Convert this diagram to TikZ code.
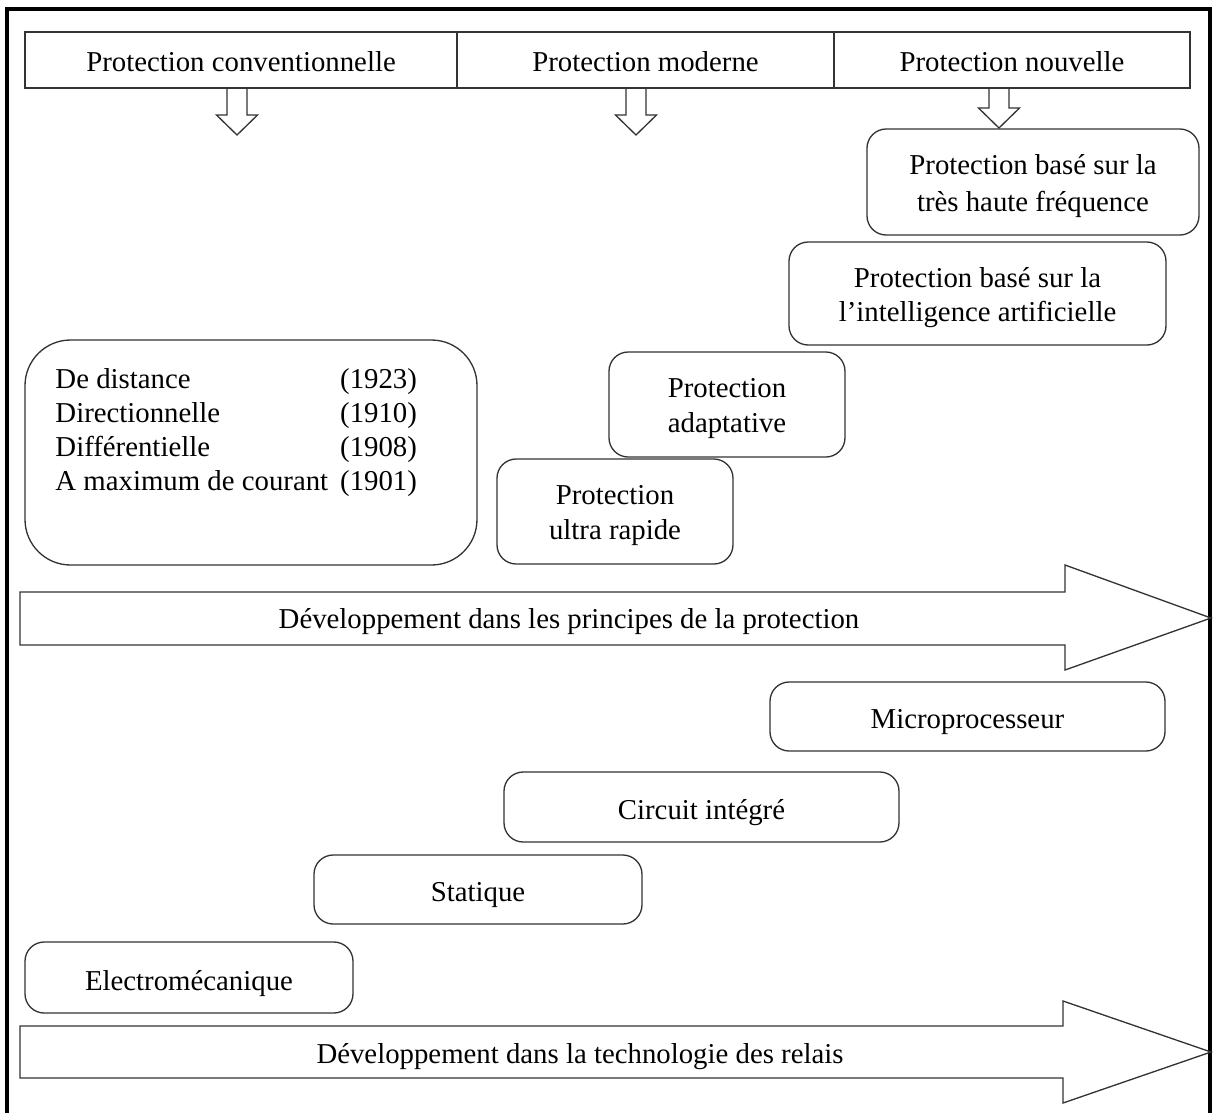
\documentclass[tikz,border=0pt]{standalone}
\usepackage{fontspec}
\setmainfont{Liberation Serif}
\def\pxu{0.4167pt}
\begin{document}
\begin{tikzpicture}[x=\pxu,y=-\pxu,
  line/.style={draw=black!80, line width=0.55pt},
  txt/.style={font=\fontsize{12}{14.5}\selectfont, text=black, align=center, inner sep=0pt},
  lowtxt/.style={txt, yshift=-4*\pxu},
  onetxt/.style={txt, yshift=-6*\pxu},
  hdr/.style={line, txt, minimum height=56*\pxu},
  rbox/.style 2 args={line, rounded corners=8pt,
    minimum width=#1*\pxu, minimum height=#2*\pxu, inner sep=0pt},
  pics/hollowdown/.style={code={
    \draw[line, line join=miter] (-10,0) -- (-10,#1) -- (-20.5,#1) -- (0,#1+20)
      -- (20.5,#1) -- (10,#1) -- (10,0);}}
]
\useasboundingbox (0,0) rectangle (1214,1113);

% outer frame
\draw[line width=4*\pxu, black] (7,1125) -- (7,9) -- (1210,9) -- (1210,1125);

% header row
\node[hdr, minimum width=432*\pxu] (h1) at (241,60) {};
\node[hdr, minimum width=377*\pxu] (h2) at (645.5,60) {};
\node[hdr, minimum width=356*\pxu] (h3) at (1012,60) {};
\node[txt, yshift=-1.5*\pxu] (h1t) at (h1) {Protection conventionnelle};
\node[txt, yshift=-1.5*\pxu] (h2t) at (h2) {Protection moderne};
\node[txt, yshift=-1.5*\pxu] (h3t) at (h3) {Protection nouvelle};

% hollow arrows under the headers
\pic at (237,88) {hollowdown=27};
\pic at (636,88) {hollowdown=27};
\pic at (999,88) {hollowdown=20};

% protection principles
\node[rbox={332}{106}] (hf) at (1033,182) {};
\node[rbox={377}{103}] (ai) at (977.5,293.5) {};
\node[rbox={236}{105}] (adapt) at (727,404.5) {};
\node[rbox={236}{105}] (ultra) at (615,511.5) {};
\node[lowtxt, font=\fontsize{12}{15.4}\selectfont] (hft) at (hf) {Protection basé sur la\\très haute fréquence};
\node[lowtxt] (ait) at (ai) {Protection basé sur la\\l’intelligence artificielle};
\node[lowtxt] (adaptt) at (adapt) {Protection\\adaptative};
\node[lowtxt] (ultrat) at (ultra) {Protection\\ultra rapide};

\node[rbox={452}{225}, rounded corners=19pt] (conv) at (251,452.5) {};
\node[txt, anchor=west, font=\fontsize{12}{14.2}\selectfont] (convlist) at (55,433) {%
  \begin{tabular}{@{}l@{\hspace{5pt}}r@{}}
  De distance & (1923)\\
  Directionnelle & (1910)\\
  Différentielle & (1908)\\
  A maximum de courant & (1901)
  \end{tabular}};

% principles arrow
\draw[line, line join=miter] (20,592) -- (1065,592) -- (1065,565) -- (1211,618)
  -- (1065,670) -- (1065,645) -- (20,645) -- cycle;
\node[txt] (dev1) at (569,622) {Développement dans les principes de la protection};

% relay technology
\node[rbox={395}{69}] (micro) at (967.5,716.5) {};
\node[rbox={395}{70}] (ci) at (701.5,807) {};
\node[rbox={328}{69}] (stat) at (478,889.5) {};
\node[rbox={328}{71}] (electro) at (189,977.5) {};
\node[onetxt] (microt) at (micro) {Microprocesseur};
\node[onetxt] (cit) at (ci) {Circuit intégré};
\node[onetxt] (statt) at (stat) {Statique};
\node[onetxt] (electrot) at (electro) {Electromécanique};

% technology arrow
\draw[line, line join=miter] (20,1026) -- (1063,1026) -- (1063,1001) -- (1211,1052)
  -- (1063,1103) -- (1063,1078) -- (20,1078) -- cycle;
\node[txt] (dev2) at (580,1057) {Développement dans la technologie des relais};
\end{tikzpicture}
\end{document}
